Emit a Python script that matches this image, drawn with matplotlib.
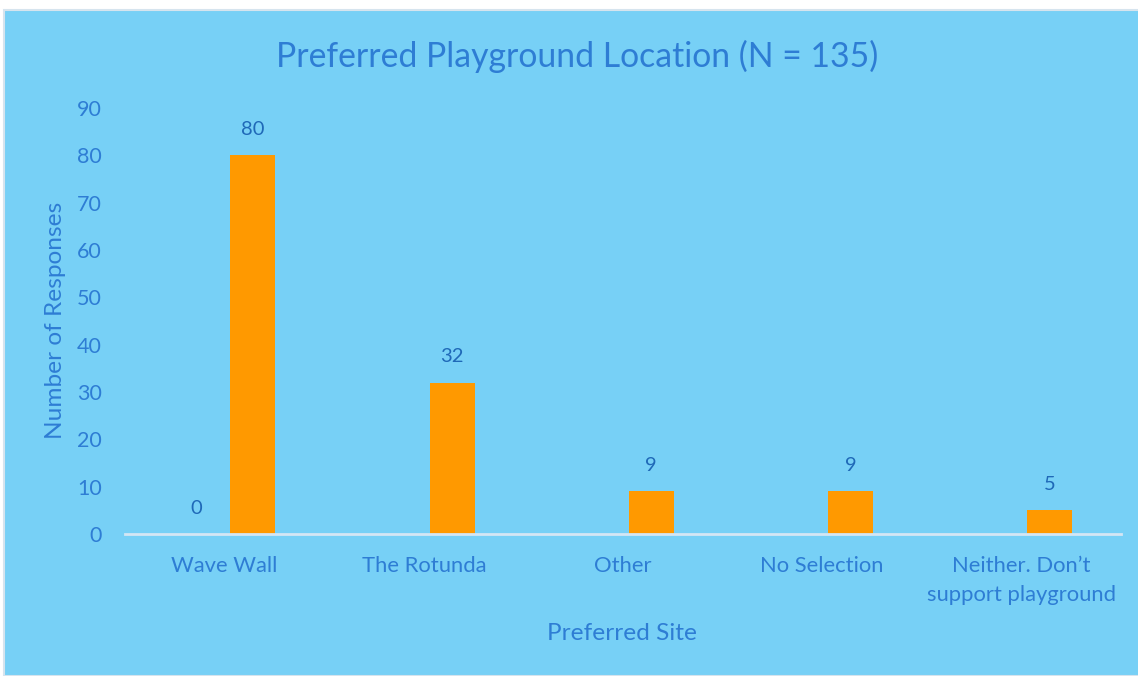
import matplotlib
matplotlib.use("Agg")
import matplotlib.pyplot as plt
import numpy as np

# data
sites = ["Wave Wall", "The Rotunda", "Other", "No Selection",
         "Neither. Don\u2019t\nsupport playground"]
blank_series = [0, None, None, None, None]   # first series, only a 0 label shows
responses = [80, 32, 9, 9, 5]

bg = "#77D0F6"
orange = "#FF9900"
txt = "#2E7DD4"
lbl = "#1F69B8"

plt.rcParams['font.family'] = ['Lato', 'DejaVu Sans']

fig = plt.figure(figsize=(11.38, 6.76), dpi=100)
fig.patch.set_facecolor("white")
# chart area with light border
fig.patches.append(plt.Rectangle((4 / 1138, 0), 1.0, 1 - 10 / 676, transform=fig.transFigure,
                                 facecolor=bg, edgecolor="#D6E4EE", linewidth=1.5, zorder=-5))

ax = fig.add_axes([125 / 1138, 1 - 534 / 676, 996 / 1138, (534 - 108) / 676])
ax.set_facecolor(bg)
ax.patch.set_alpha(0)

x = np.arange(len(sites))
w = 0.226
off = 0.142

ax.bar(x + off, responses, width=w, color=orange, zorder=2)
for xi, v in zip(x, responses):
    ax.annotate(str(v), (xi + off, v), xytext=(0, 18.5), textcoords="offset points",
                ha="center", va="center", color=lbl, fontsize=14.5)
for xi, v in zip(x, blank_series):
    if v is not None:
        ax.bar(xi - off, v, width=w, color=orange, zorder=2)
        ax.annotate(str(v), (xi - off, v), xytext=(0, 18.5), textcoords="offset points",
                    ha="center", va="center", color=lbl, fontsize=14.5)

ax.set_xlim(-0.5, len(sites) - 0.5)
ax.set_ylim(0, 90)
ax.set_yticks(range(0, 91, 10))
ax.set_xticks(x)
ax.set_xticklabels(sites, fontsize=15.8, color=txt, linespacing=1.55)
ax.tick_params(axis="y", length=0, pad=16.5, labelsize=15.5, labelcolor=txt)
ax.tick_params(axis="x", length=0, pad=16)
for s in ["top", "right", "left"]:
    ax.spines[s].set_visible(False)
ax.spines["bottom"].set_color("#D4E6F4")
ax.spines["bottom"].set_linewidth(2)

fig.text(622 / 1138, 1 - 633 / 676, "Preferred Site", ha="center", va="center",
         fontsize=17.6, color=txt)
fig.text(56 / 1138, 1 - 320 / 676, "Number of Responses", ha="center", va="center",
         rotation=90, fontsize=17.6, color=txt)

fig.text(577 / 1138, 1 - 56 / 676, "Preferred Playground Location (N = 135)",
         ha="center", va="center", fontsize=24.3, color=txt)

fig.savefig("out.png", dpi=100, facecolor=fig.get_facecolor())
